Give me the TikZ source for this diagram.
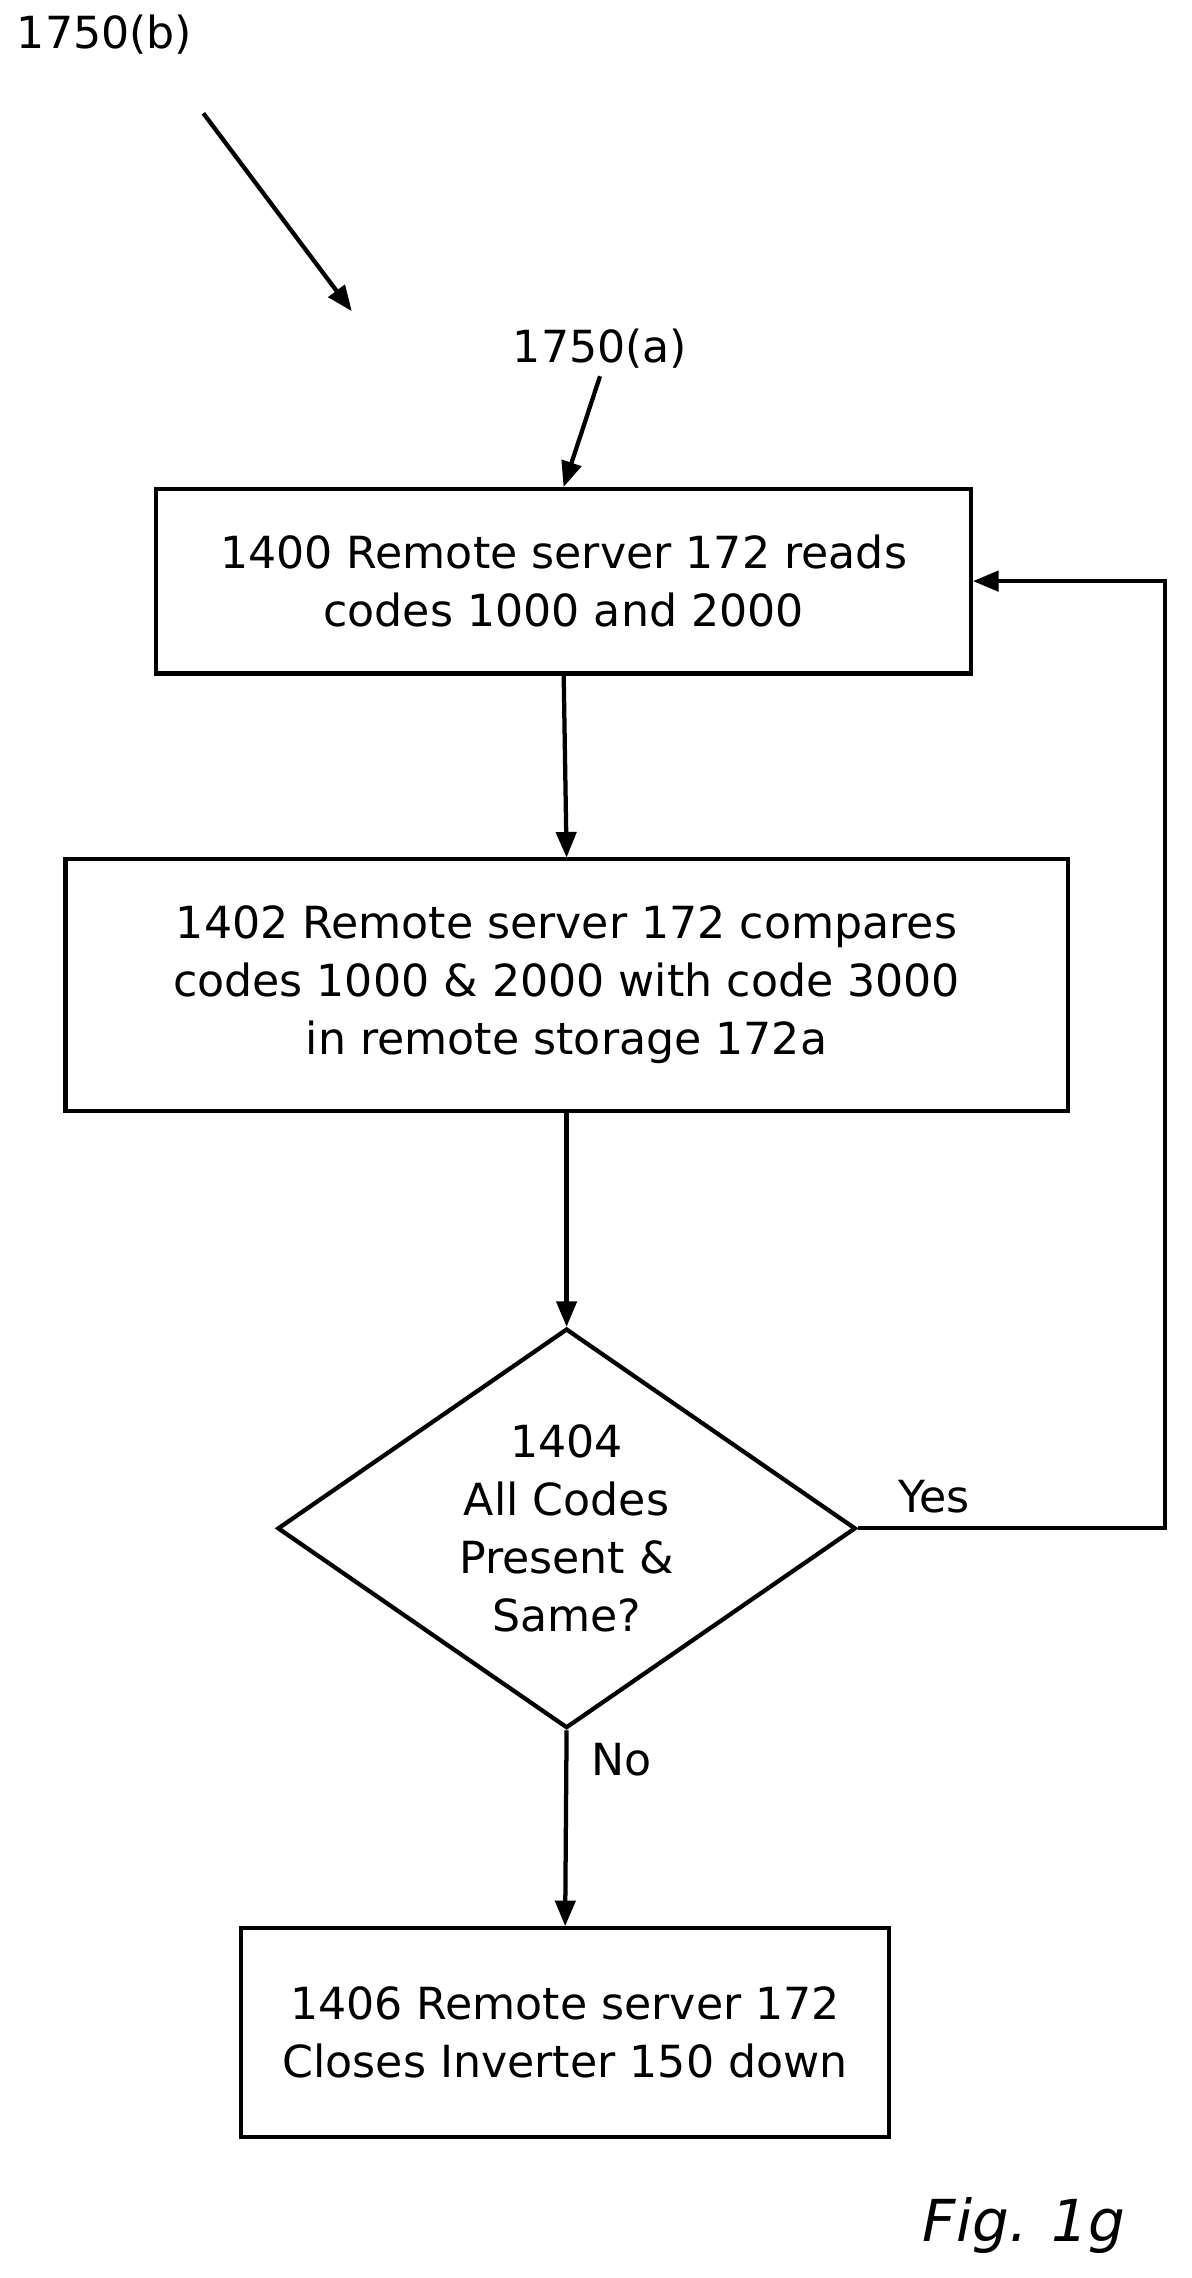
\documentclass[tikz,border=0pt]{standalone}
\usepackage{fontspec}
\setmainfont{DejaVu Sans}
\usetikzlibrary{arrows,shapes.geometric}

\tikzset{
  flowbox/.style={draw,line width=2.5pt,align=center,inner sep=0pt,
    font=\fontsize{26}{34}\selectfont},
  lbl/.style={font=\fontsize{26}{34}\selectfont},
}

\begin{document}
\begin{tikzpicture}[x=0.03cm,y=-0.03cm]
\begin{scope}[>=triangle 45,line width=2.5pt]
    \useasboundingbox (0,0) rectangle (820,1568);

    \node[lbl] (ref b) at (72,24) {1750(b)};
    \coordinate (b from) at (140,78);
    \coordinate (b to) at (242,214);
    \draw[->] (b from) -- (b to);

    \node[lbl] (ref a) at (413,240) {1750(a)};

    \node[flowbox,minimum width=561*0.03cm,minimum height=127*0.03cm]
        (s1400) at (388,400) {1400 Remote server 172 reads\\codes 1000 and 2000};
    \node[flowbox,minimum width=690*0.03cm,minimum height=173*0.03cm]
        (s1402) at (390,678) {1402 Remote server 172 compares\\codes 1000 \& 2000 with code 3000\\in remote storage 172a};
    \node[draw,diamond,line width=2.5pt,inner sep=0pt,
        minimum width=398*0.03cm,minimum height=275*0.03cm]
        (d1404) at (390,1052) {};
    \node[lbl,align=center] (t1404) at (d1404.center) {1404\\All Codes\\Present \&\\Same?};
    \node[flowbox,minimum width=446*0.03cm,minimum height=144*0.03cm]
        (s1406) at (389,1399) {1406 Remote server 172\\Closes Inverter 150 down};

    \draw[->] (ref a.south) -- (s1400.north);
    \draw[->] (s1400.south) -- (s1402.north);
    \draw[->] (s1402.south) -- (d1404.north);
    \draw[->] (d1404.south) -- (s1406.north)
        node[lbl,pos=0.15,right=10pt] {No};
    \coordinate (loop) at (802,1052);
    \draw[->] (d1404.east) -- (loop) |- (s1400.east);
    \node[lbl] (yes) at (643,1030) {Yes};

    \node[font=\fontsize{34}{40}\selectfont\itshape] (fig) at (705,1532) {Fig. 1g};
\end{scope}
\end{tikzpicture}
\end{document}
